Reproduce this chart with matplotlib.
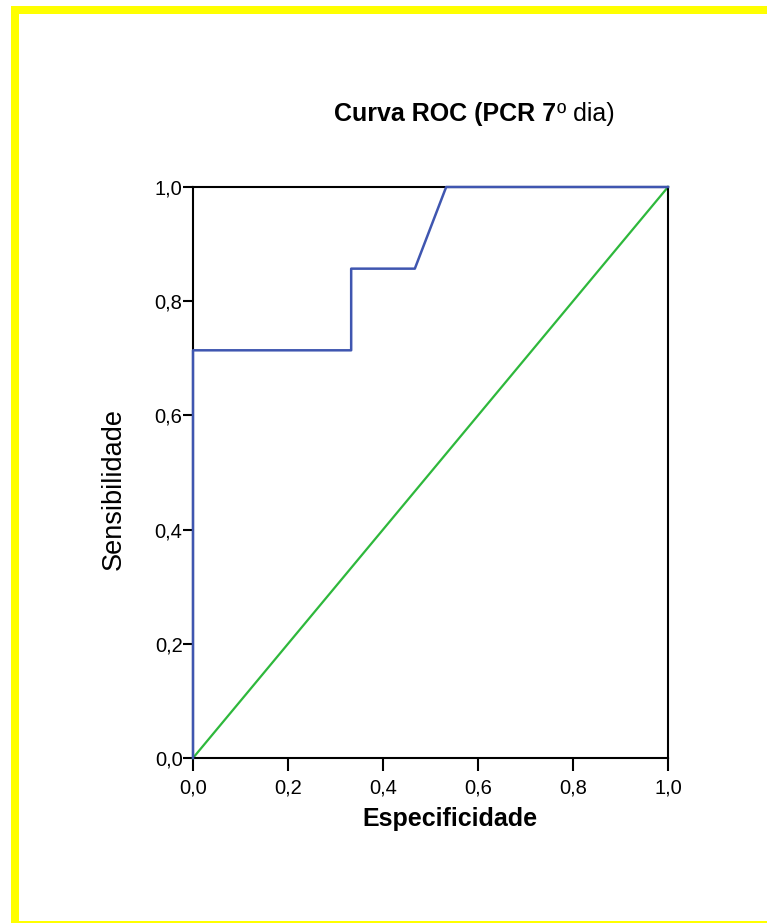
import matplotlib
matplotlib.use("Agg")
import matplotlib.pyplot as plt
from matplotlib.patches import Rectangle

plt.rcParams['font.family'] = ['Liberation Sans', 'DejaVu Sans']

# ROC curve points (1 - especificidade, sensibilidade)
roc_x = [0.0, 0.0, 0.333, 0.333, 0.467, 0.533, 1.0]
roc_y = [0.0, 0.714, 0.714, 0.857, 0.857, 1.0, 1.0]
ref_x = [0.0, 1.0]
ref_y = [0.0, 1.0]
ticks = [0.0, 0.2, 0.4, 0.6, 0.8, 1.0]
tick_labels = ['0,0', '0,2', '0,4', '0,6', '0,8', '1,0']

W, H = 767, 923
fig = plt.figure(figsize=(W / 100, H / 100), dpi=100)

# yellow frame (left, top, bottom)
yel = '#ffff00'
fig.add_artist(Rectangle((11 / W, 0), 8 / W, 1 - 6 / H, transform=fig.transFigure, color=yel, lw=0))
fig.add_artist(Rectangle((11 / W, 1 - 14 / H), 1, 8 / H, transform=fig.transFigure, color=yel, lw=0))
fig.add_artist(Rectangle((11 / W, 0), 1, 2.5 / H, transform=fig.transFigure, color=yel, lw=0))

ax = fig.add_axes([193 / W, 1 - 758 / H, 475 / W, 571 / H])
ax.plot(roc_x, roc_y, color='#3f56b0', lw=1.8, zorder=3, clip_on=False)
ax.plot(ref_x, ref_y, color='#2eb83c', lw=1.6, zorder=2, clip_on=False)

ax.set_xlim(0, 1)
ax.set_ylim(0, 1)
ax.set_xticks(ticks)
ax.set_xticklabels(tick_labels)
ax.set_yticks(ticks)
ax.set_yticklabels(tick_labels)
for s in ax.spines.values():
    s.set_linewidth(1.5)
    s.set_color('black')
ax.tick_params(axis='x', direction='out', length=9.5, width=1.5, pad=5.5, labelsize=14.5)
ax.tick_params(axis='y', direction='out', length=7, width=1.5, pad=0.5, labelsize=14.5)

ax.set_xlabel('Especificidade', fontsize=18, fontweight='bold', va='center')
ax.xaxis.set_label_coords(0.541, -0.107)
ax.set_ylabel('Sensibilidade', fontsize=19.5, va='center')
ax.yaxis.set_label_coords(-0.167, 0.471)

# title: bold part + normal part
fig.text(556 / W, 1 - 114 / H, 'Curva ROC (PCR 7', fontsize=18, fontweight='bold',
         ha='right', va='center')
fig.text(557 / W, 1 - 114 / H, 'º dia)', fontsize=18, ha='left', va='center')

fig.savefig('out.png', dpi=100, facecolor='white')
